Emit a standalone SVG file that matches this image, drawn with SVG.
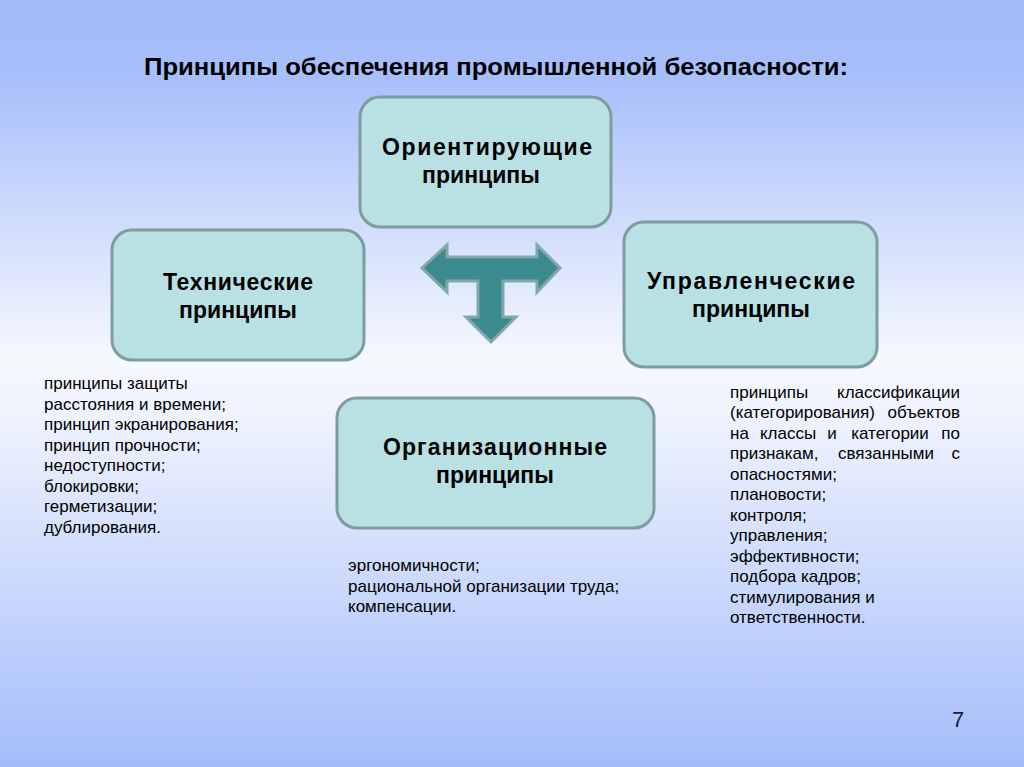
<svg xmlns="http://www.w3.org/2000/svg" width="1024" height="767" viewBox="0 0 1024 767">
<defs>
<linearGradient id="bg" x1="0" y1="0" x2="0" y2="1">
<stop offset="0" stop-color="#a2bbfa"/>
<stop offset="0.1" stop-color="#a7bffa"/>
<stop offset="0.47" stop-color="#f6f8fe"/>
<stop offset="0.55" stop-color="#eef2fe"/>
<stop offset="1" stop-color="#a3bcfa"/>
</linearGradient>
</defs>
<style>
.box{fill:#b9e0e3;stroke:#7f9c9e;stroke-width:3}
.lbl{font-family:"Liberation Sans",Arial,sans-serif;font-weight:bold;font-size:23px;fill:#000;text-anchor:middle}
.lst{font-family:"Liberation Sans",Arial,sans-serif;font-size:17px;fill:#000}
.mid{text-anchor:middle}
.end{text-anchor:end}
.title{font-family:"Liberation Sans Narrow","Liberation Sans",Arial,sans-serif;font-weight:bold;font-size:24px;fill:#000}
.arrow{fill:#3a8a8e;stroke:#80a8aa;stroke-width:3;stroke-linejoin:miter}
</style>
<rect x="0" y="0" width="1024" height="767" fill="url(#bg)"/>
<text class="title" x="144" y="75" textLength="704" lengthAdjust="spacingAndGlyphs">Принципы обеспечения промышленной безопасности:</text>

<g id="connectors">
<path class="arrow" d="M422,268 L447,245 L447,257 L537,257 L537,245 L560,268 L537,292 L537,281 L503,281 L503,317 L516,317 L491,342 L466,317 L478,317 L478,281 L447,281 L447,292 Z"/>
</g>

<g id="node-orient">
<rect class="box" x="360" y="97" width="251" height="130" rx="20"/>
<text class="lbl" x="487" y="155" textLength="210" lengthAdjust="spacing">Ориентирующие</text>
<text class="lbl" x="481" y="183">принципы</text>
</g>

<g id="node-tech">
<rect class="box" x="112" y="230" width="252" height="130" rx="20"/>
<text class="lbl" x="238" y="290" textLength="150" lengthAdjust="spacing">Технические</text>
<text class="lbl" x="238" y="318">принципы</text>
</g>

<g id="node-manage">
<rect class="box" x="624" y="222" width="253" height="145" rx="20"/>
<text class="lbl" x="751" y="289" textLength="208" lengthAdjust="spacing">Управленческие</text>
<text class="lbl" x="751" y="317">принципы</text>
</g>

<g id="node-org">
<rect class="box" x="337" y="398" width="317" height="130" rx="20"/>
<text class="lbl" x="495" y="455" textLength="224" lengthAdjust="spacing">Организационные</text>
<text class="lbl" x="495" y="483">принципы</text>
</g>

<g id="text-tech">
<text class="lst" x="44" y="389">принципы защиты</text>
<text class="lst" x="44" y="409.5">расстояния и времени;</text>
<text class="lst" x="44" y="430">принцип экранирования;</text>
<text class="lst" x="44" y="450.5">принцип прочности;</text>
<text class="lst" x="44" y="471">недоступности;</text>
<text class="lst" x="44" y="491.5">блокировки;</text>
<text class="lst" x="44" y="512">герметизации;</text>
<text class="lst" x="44" y="532.5">дублирования.</text>
</g>

<g id="text-manage">
<text class="lst" x="730" y="397.5">принципы</text>
<text class="lst end" x="960" y="397.5">классификации</text>
<text class="lst" x="730" y="418">(категорирования)</text>
<text class="lst end" x="960" y="418">объектов</text>
<text class="lst" x="730" y="438.5">на</text>
<text class="lst mid" x="788" y="438.5">классы</text>
<text class="lst mid" x="832" y="438.5">и</text>
<text class="lst mid" x="890" y="438.5">категории</text>
<text class="lst end" x="960" y="438.5">по</text>
<text class="lst" x="730" y="459">признакам,</text>
<text class="lst mid" x="886" y="459">связанными</text>
<text class="lst end" x="960" y="459">с</text>
<text class="lst" x="730" y="479.5">опасностями;</text>
<text class="lst" x="730" y="500">плановости;</text>
<text class="lst" x="730" y="520.5">контроля;</text>
<text class="lst" x="730" y="541">управления;</text>
<text class="lst" x="730" y="561.5">эффективности;</text>
<text class="lst" x="730" y="582">подбора кадров;</text>
<text class="lst" x="730" y="602.5">стимулирования и</text>
<text class="lst" x="730" y="623">ответственности.</text>
</g>

<g id="text-org">
<text class="lst" x="348" y="571">эргономичности;</text>
<text class="lst" x="348" y="591.5">рациональной организации труда;</text>
<text class="lst" x="348" y="612">компенсации.</text>
</g>

<text x="958" y="727" font-family="'Liberation Sans',Arial,sans-serif" font-size="22" fill="#1b1b3a" text-anchor="middle">7</text>
</svg>
